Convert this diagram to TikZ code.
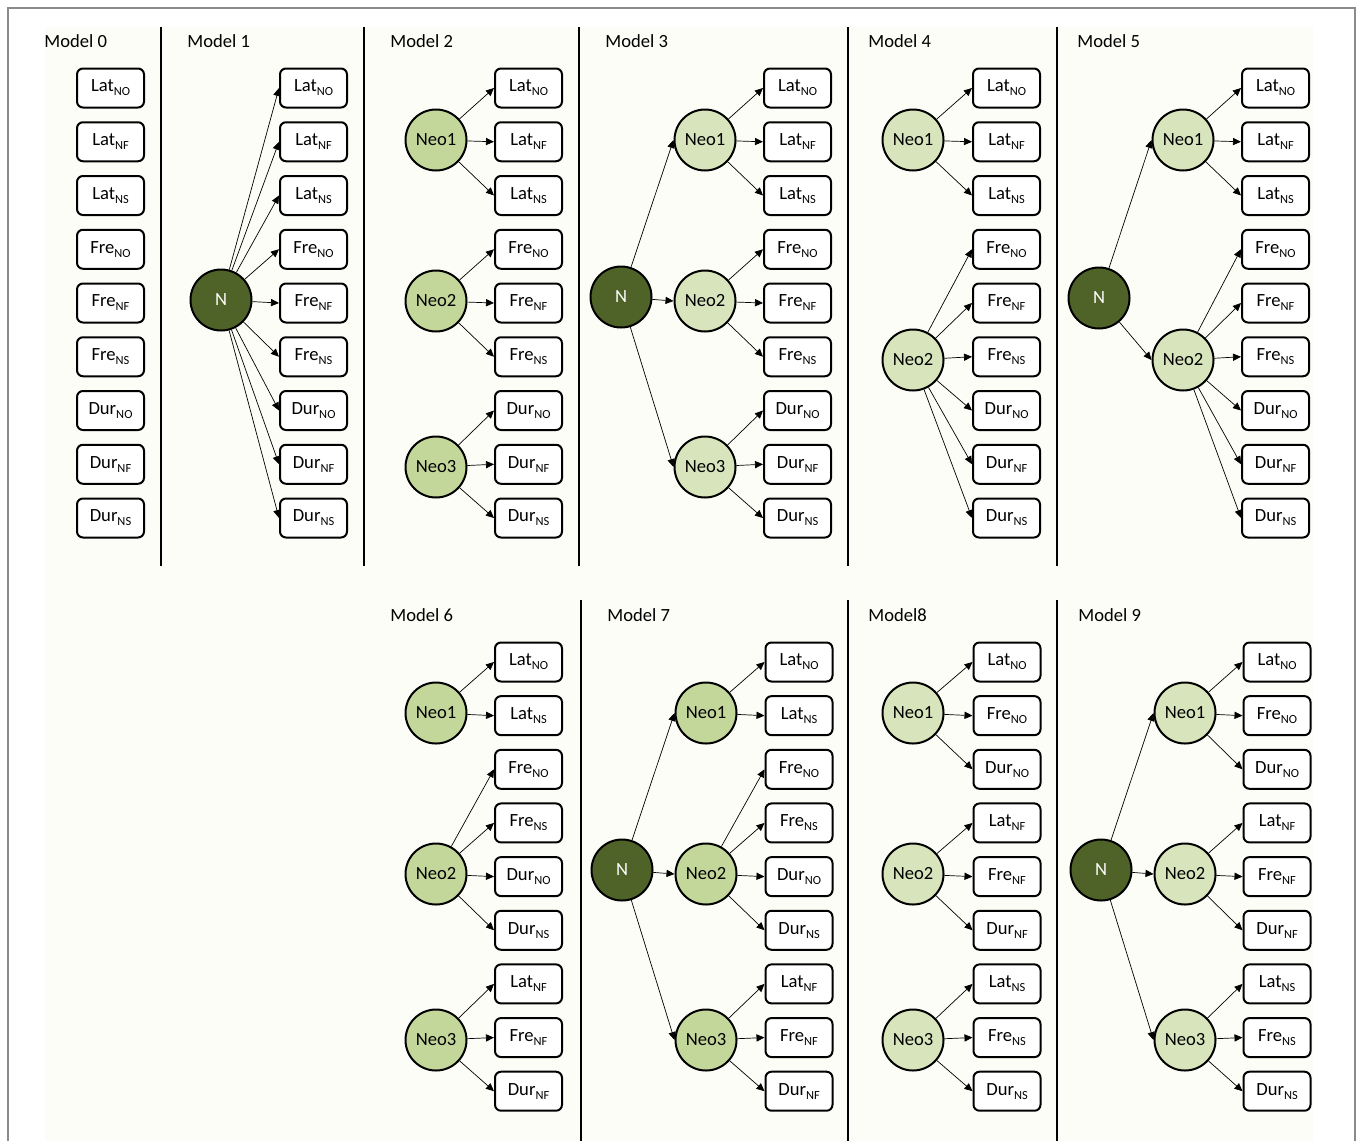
\documentclass[tikz,border=0pt]{standalone}
\usepackage{fontspec}
\setmainfont{Carlito}
\usetikzlibrary{arrows.meta}

\definecolor{ndark}{HTML}{4F6228}
\definecolor{neomid}{HTML}{C4D79B}
\definecolor{neolight}{HTML}{D8E4BC}
\definecolor{paper}{HTML}{FDFDF7}
\definecolor{framegray}{HTML}{8A8A8A}

\newcommand{\subtxt}[1]{\raisebox{-2pt}{\fontsize{6.2pt}{7pt}\selectfont #1}}

\begin{document}
\begin{tikzpicture}[
  x=0.5pt, y=-0.5pt,
  font=\fontsize{9.3pt}{11pt}\selectfont,
  var/.style={draw, line width=1pt, rounded corners=3pt, fill=white,
    inner sep=0pt, minimum width=33.5pt, minimum height=19.5pt},
  latent/.style={circle, draw, line width=1pt, inner sep=0pt, minimum size=30.5pt},
  gen/.style={latent, fill=ndark, text=white},
  neoA/.style={latent, fill=neomid},
  neoB/.style={latent, fill=neolight},
  arr/.style={line width=0.35pt, -{Triangle[length=4pt,width=3.6pt]}},
  sep/.style={line width=1pt},
  title/.style={anchor=west, inner sep=0pt}
  ]
  \useasboundingbox (0,0) rectangle (1358,1141);
  \fill[white] (0,0) rectangle (1358,1141);
  \fill[paper] (45,27) rectangle (1313,1141);
  \draw[framegray, line width=0.8pt] (8,1141) |- (1355,8) -- (1355,1141);

  % separators
  \foreach \x in {161,364,579,848,1057}
    \draw[sep] (\x,27) -- (\x,566);
  \foreach \x in {581,848,1057}
    \draw[sep] (\x,600) -- (\x,1141);

  % titles
  \node[title] (t0) at (44,41) {Model 0};
  \node[title] (t1) at (187,41) {Model 1};
  \node[title] (t2) at (390,41) {Model 2};
  \node[title] (t3) at (605,41) {Model 3};
  \node[title] (t4) at (868,41) {Model 4};
  \node[title] (t5) at (1077,41) {Model 5};
  \node[title] (t6) at (390,615) {Model 6};
  \node[title] (t7) at (607,615) {Model 7};
  \node[title] (t8) at (868,615) {Model8};
  \node[title] (t9) at (1078,615) {Model 9};

  % indicator boxes, top row
  \foreach \m/\x in {0/110.5,1/313.5,2/528.5,3/797.5,4/1006.5,5/1275.5} {
    \foreach \v/\s [count=\i] in {Lat/NO,Lat/NF,Lat/NS,Fre/NO,Fre/NF,Fre/NS,Dur/NO,Dur/NF,Dur/NS}
      \node[var] (m\m b\i) at (\x,{88+53.75*(\i-1)}) {\v\subtxt{\s}};
  }
  % indicator boxes, bottom row
  \foreach \m/\x in {6/528.5,7/799} {
    \foreach \v/\s [count=\i] in {Lat/NO,Lat/NS,Fre/NO,Fre/NS,Dur/NO,Dur/NS,Lat/NF,Fre/NF,Dur/NF}
      \node[var] (m\m b\i) at (\x,{662+53.65*(\i-1)}) {\v\subtxt{\s}};
  }
  \foreach \m/\x in {8/1007,9/1277} {
    \foreach \v/\s [count=\i] in {Lat/NO,Fre/NO,Dur/NO,Lat/NF,Fre/NF,Dur/NF,Lat/NS,Fre/NS,Dur/NS}
      \node[var] (m\m b\i) at (\x,{662+53.65*(\i-1)}) {\v\subtxt{\s}};
  }

  % Model 1
  \node[gen] (m1N) at (221,300) {N};
  \foreach \i in {1,...,9}
    \draw[arr] (m1N) -- (m1b\i.west);

  % Model 2 and 3
  \node[neoA] (m2n1) at (436,140) {Neo1};
  \node[neoA] (m2n2) at (436,301) {Neo2};
  \node[neoA] (m2n3) at (436,467) {Neo3};
  \node[gen] (m3N) at (621,297) {N};
  \node[neoB] (m3n1) at (705,140) {Neo1};
  \node[neoB] (m3n2) at (705,301) {Neo2};
  \node[neoB] (m3n3) at (705,467) {Neo3};
  \foreach \m in {2,3} {
    \foreach \k in {1,2,3} {
      \foreach \j in {0,1,2} {
        \pgfmathtruncatemacro{\b}{3*\k-2+\j}
        \draw[arr] (m\m n\k) -- (m\m b\b.west);
      }
    }
  }
  \foreach \k in {1,2,3}
    \draw[arr] (m3N) -- (m3n\k.west);

  % Model 4 and 5
  \node[neoB] (m4n1) at (913,140) {Neo1};
  \node[neoB] (m4n2) at (913,360) {Neo2};
  \node[gen] (m5N) at (1099,298) {N};
  \node[neoB] (m5n1) at (1183,140) {Neo1};
  \node[neoB] (m5n2) at (1183,360) {Neo2};
  \foreach \m in {4,5} {
    \foreach \b in {1,2,3}
      \draw[arr] (m\m n1) -- (m\m b\b.west);
    \foreach \b in {4,...,9}
      \draw[arr] (m\m n2) -- (m\m b\b.west);
  }
  \draw[arr] (m5N) -- (m5n1.west);
  \draw[arr] (m5N) -- (m5n2.west);

  % Model 6 and 7
  \node[neoA] (m6n1) at (436,713) {Neo1};
  \node[neoA] (m6n2) at (436,874) {Neo2};
  \node[neoA] (m6n3) at (436,1040) {Neo3};
  \node[gen] (m7N) at (622,870) {N};
  \node[neoA] (m7n1) at (706,713) {Neo1};
  \node[neoA] (m7n2) at (706,874) {Neo2};
  \node[neoA] (m7n3) at (706,1040) {Neo3};
  \foreach \m in {6,7} {
    \foreach \b in {1,2}
      \draw[arr] (m\m n1) -- (m\m b\b.west);
    \foreach \b in {3,...,6}
      \draw[arr] (m\m n2) -- (m\m b\b.west);
    \foreach \b in {7,8,9}
      \draw[arr] (m\m n3) -- (m\m b\b.west);
  }
  \foreach \k in {1,2,3}
    \draw[arr] (m7N) -- (m7n\k.west);

  % Model 8 and 9
  \node[neoB] (m8n1) at (913,713) {Neo1};
  \node[neoB] (m8n2) at (913,874) {Neo2};
  \node[neoB] (m8n3) at (913,1040) {Neo3};
  \node[gen] (m9N) at (1101,870) {N};
  \node[neoB] (m9n1) at (1185,713) {Neo1};
  \node[neoB] (m9n2) at (1185,874) {Neo2};
  \node[neoB] (m9n3) at (1185,1040) {Neo3};
  \foreach \m in {8,9} {
    \foreach \k in {1,2,3} {
      \foreach \j in {0,1,2} {
        \pgfmathtruncatemacro{\b}{3*\k-2+\j}
        \draw[arr] (m\m n\k) -- (m\m b\b.west);
      }
    }
  }
  \foreach \k in {1,2,3}
    \draw[arr] (m9N) -- (m9n\k.west);
\end{tikzpicture}
\end{document}
